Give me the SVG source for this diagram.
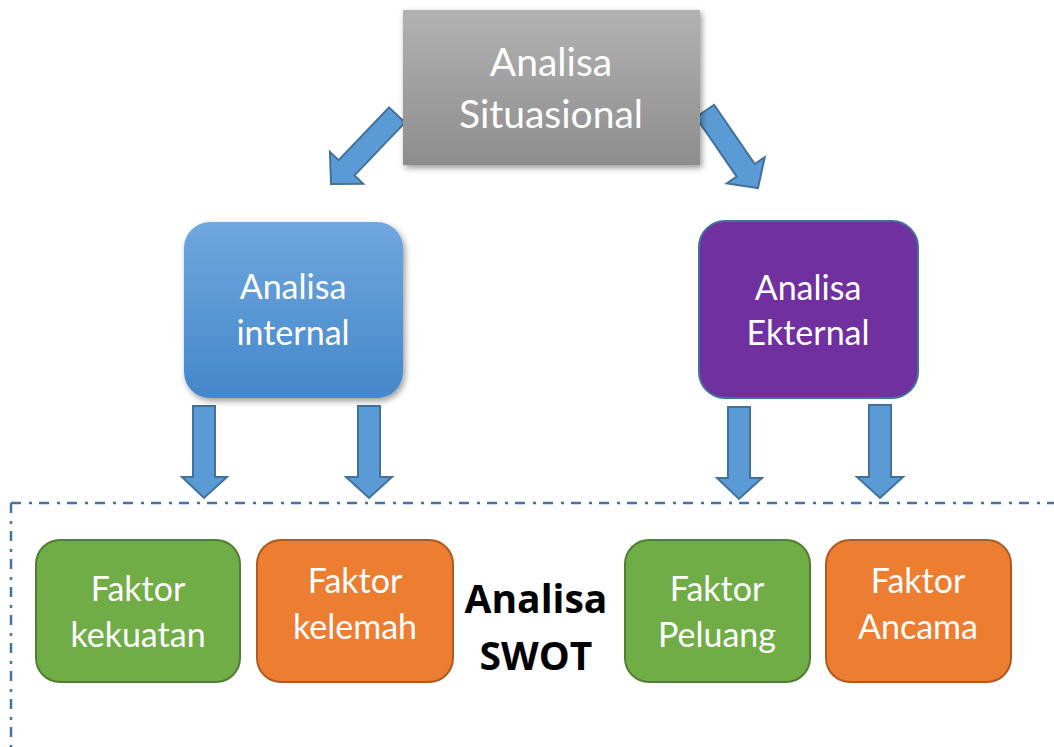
<svg xmlns="http://www.w3.org/2000/svg" width="1054" height="747" viewBox="0 0 1054 747">
  <defs>
    <linearGradient id="gGray" x1="0" y1="0" x2="0" y2="1">
      <stop offset="0" stop-color="#b2b2b2"/>
      <stop offset="1" stop-color="#8d8d8d"/>
    </linearGradient>
    <linearGradient id="gBlue" x1="0" y1="0" x2="0" y2="1">
      <stop offset="0" stop-color="#6fa7dd"/>
      <stop offset="1" stop-color="#4587cb"/>
    </linearGradient>
    <filter id="shadow" x="-10%" y="-10%" width="125%" height="130%">
      <feDropShadow dx="2" dy="3" stdDeviation="3" flood-color="#000" flood-opacity="0.4"/>
    </filter>
  </defs>
  <style>
    .lbl { font-family: Lato, "Liberation Sans", sans-serif; fill: #ffffff; text-anchor: middle; }
    .arrow { fill: #5b9bd5; stroke: #41719c; stroke-width: 2; stroke-linejoin: miter; }
    .frame { fill: none; stroke: #4672a4; stroke-width: 2.5; stroke-dasharray: 10 8 3 7; }
    .green { fill: #70ad47; stroke: #507e32; stroke-width: 2; }
    .orange { fill: #ed7d31; stroke: #ae5a21; stroke-width: 2; }
    .swot { font-family: "Open Sans", "Liberation Sans", sans-serif; font-weight: bold; fill: #000; text-anchor: middle; font-size: 39px; }
  </style>

  <!-- dash-dot frame around the SWOT factors -->
  <g id="swot-frame">
    <path class="frame" d="M11 503 H1054 M11 503 V747"/>
  </g>

  <!-- block arrows -->
  <g id="connectors">
    <polygon class="arrow" transform="translate(397 115) rotate(43.7)" points="-11,0 11,0 11,73 23,73 0,95.5 -23,73 -11,73"/>
    <polygon class="arrow" transform="translate(705 111) rotate(-34.5)" points="-11,0 11,0 11,72 23,72 0,93.5 -23,72 -11,72"/>
    <polygon class="arrow" points="193,406 215,406 215,477 227,477 204,498 182,477 193,477"/>
    <polygon class="arrow" points="358,406 380,406 380,477 392,477 369,498 346,477 358,477"/>
    <polygon class="arrow" points="728,407 750,407 750,478 762,478 739,499 717,478 728,478"/>
    <polygon class="arrow" points="869,405 891,405 891,477 903,477 880,498 857,477 869,477"/>
  </g>

  <g id="analisa-situasional">
    <rect x="403" y="10" width="297" height="155" fill="url(#gGray)" filter="url(#shadow)"/>
    <text class="lbl" x="551" y="76" font-size="39">Analisa</text>
    <text class="lbl" x="551" y="128" font-size="39">Situasional</text>
  </g>

  <g id="analisa-internal">
    <rect x="184" y="222" width="219" height="176" rx="26" fill="url(#gBlue)" filter="url(#shadow)"/>
    <text class="lbl" x="293" y="299" font-size="34">Analisa</text>
    <text class="lbl" x="293" y="345" font-size="34">internal</text>
  </g>

  <g id="analisa-ekternal">
    <rect x="699" y="221" width="219" height="177" rx="26" fill="#7030a0" stroke="#41719c" stroke-width="2"/>
    <text class="lbl" x="808" y="300" font-size="34">Analisa</text>
    <text class="lbl" x="808" y="345" font-size="34">Ekternal</text>
  </g>

  <g id="faktor-kekuatan">
    <rect class="green" x="36" y="540" width="204" height="142" rx="24"/>
    <text class="lbl" x="138" y="601" font-size="34">Faktor</text>
    <text class="lbl" x="138" y="647" font-size="34">kekuatan</text>
  </g>

  <g id="faktor-kelemah">
    <rect class="orange" x="257" y="540" width="196" height="142" rx="24"/>
    <text class="lbl" x="355" y="593" font-size="34">Faktor</text>
    <text class="lbl" x="355" y="639" font-size="34">kelemah</text>
  </g>

  <g id="analisa-swot">
    <text class="swot" x="536" y="613">Analisa</text>
    <text class="swot" x="536" y="670">SWOT</text>
  </g>

  <g id="faktor-peluang">
    <rect class="green" x="625" y="540" width="185" height="142" rx="24"/>
    <text class="lbl" x="717" y="601" font-size="34">Faktor</text>
    <text class="lbl" x="717" y="647" font-size="34">Peluang</text>
  </g>

  <g id="faktor-ancama">
    <rect class="orange" x="826" y="540" width="185" height="142" rx="24"/>
    <text class="lbl" x="918" y="593" font-size="34">Faktor</text>
    <text class="lbl" x="918" y="639" font-size="34">Ancama</text>
  </g>
</svg>
